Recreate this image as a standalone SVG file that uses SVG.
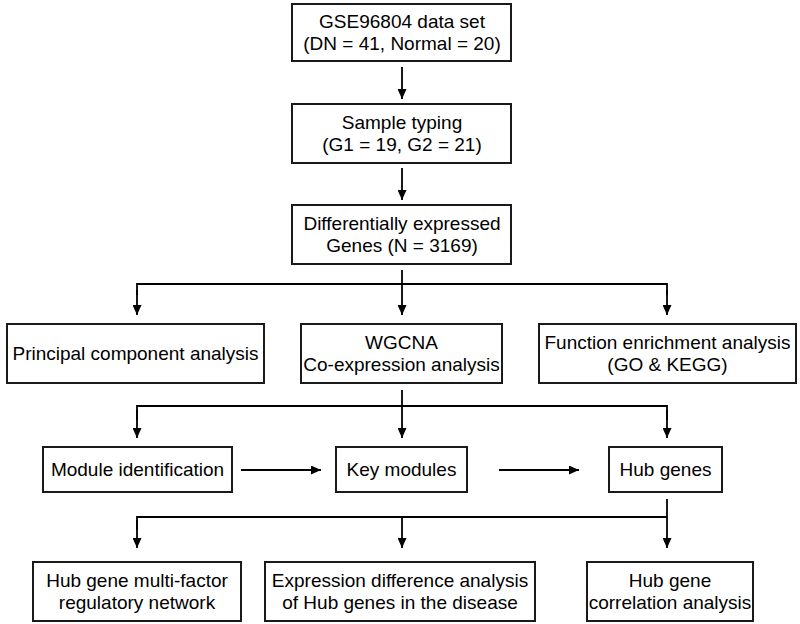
<svg xmlns="http://www.w3.org/2000/svg" width="800" height="624" viewBox="0 0 800 624">
<defs>
<marker id="ah" viewBox="0 0 10 9" refX="10" refY="4.5" markerWidth="10" markerHeight="9" orient="auto" markerUnits="userSpaceOnUse">
<path d="M0,0 L10,4.5 L0,9 Z" fill="#000"/>
</marker>
<style>
.box{fill:#fff;stroke:#1a1a1a;stroke-width:2}
.t{font-family:"Liberation Sans",Arial,sans-serif;font-size:19px;fill:#000;text-anchor:middle}
.c{fill:none;stroke:#000;stroke-width:1.8}
.a{fill:none;stroke:#000;stroke-width:1.8;marker-end:url(#ah)}
</style>
</defs>
<rect width="800" height="624" fill="#fff"/>
<g id="connectors">
<line class="a" x1="402" y1="67" x2="402" y2="99"/>
<line class="a" x1="402" y1="168" x2="402" y2="200"/>
<line class="c" x1="402" y1="270" x2="402" y2="284"/>
<polyline class="c" points="137,295 137,284 667,284 667,295"/>
<line class="a" x1="137" y1="290" x2="137" y2="315"/>
<line class="a" x1="402" y1="284" x2="402" y2="315"/>
<line class="a" x1="667" y1="290" x2="667" y2="315"/>
<line class="c" x1="402" y1="390" x2="402" y2="406"/>
<polyline class="c" points="137,420 137,406 667,406 667,420"/>
<line class="a" x1="137" y1="410" x2="137" y2="438"/>
<line class="a" x1="402" y1="406" x2="402" y2="438"/>
<line class="a" x1="667" y1="410" x2="667" y2="438"/>
<line class="a" x1="241" y1="470" x2="321" y2="470"/>
<line class="a" x1="499" y1="470" x2="579" y2="470"/>
<line class="c" x1="667" y1="499" x2="667" y2="517"/>
<polyline class="c" points="137,530 137,517 667,517"/>
<line class="a" x1="137" y1="520" x2="137" y2="548"/>
<line class="a" x1="402" y1="517" x2="402" y2="548"/>
<line class="a" x1="667" y1="517" x2="667" y2="548"/>
</g>
<g id="n1"><rect class="box" x="292" y="4" width="219" height="57"/>
<text class="t" x="402" y="28">GSE96804 data set</text><text class="t" x="402" y="50">(DN = 41, Normal = 20)</text></g>
<g id="n2"><rect class="box" x="292" y="104" width="219" height="59"/>
<text class="t" x="402" y="129">Sample typing</text><text class="t" x="402" y="151">(G1 = 19, G2 = 21)</text></g>
<g id="n3"><rect class="box" x="292" y="205" width="219" height="59"/>
<text class="t" x="402" y="230">Differentially expressed</text><text class="t" x="402" y="252">Genes (N = 3169)</text></g>
<g id="n4"><rect class="box" x="7" y="324" width="257" height="59"/>
<text class="t" x="135.5" y="360">Principal component analysis</text></g>
<g id="n5"><rect class="box" x="301" y="324" width="201" height="59"/>
<text class="t" x="401.5" y="349">WGCNA</text><text class="t" x="401.5" y="371">Co-expression analysis</text></g>
<g id="n6"><rect class="box" x="539" y="324" width="257" height="59"/>
<text class="t" x="667.5" y="349">Function enrichment analysis</text><text class="t" x="667.5" y="371">(GO &amp; KEGG)</text></g>
<g id="n7"><rect class="box" x="43" y="447" width="189" height="45"/>
<text class="t" x="137.5" y="476">Module identification</text></g>
<g id="n8"><rect class="box" x="336" y="447" width="131" height="45"/>
<text class="t" x="401.5" y="476">Key modules</text></g>
<g id="n9"><rect class="box" x="609" y="447" width="113" height="45"/>
<text class="t" x="665.5" y="476">Hub genes</text></g>
<g id="n10"><rect class="box" x="33" y="562" width="208" height="59"/>
<text class="t" x="137" y="587">Hub gene multi-factor</text><text class="t" x="137" y="609">regulatory network</text></g>
<g id="n11"><rect class="box" x="265" y="562" width="270" height="59"/>
<text class="t" x="400" y="587">Expression difference analysis</text><text class="t" x="400" y="609">of Hub genes in the disease</text></g>
<g id="n12"><rect class="box" x="587" y="562" width="166" height="59"/>
<text class="t" x="670" y="587">Hub gene</text><text class="t" x="670" y="609">correlation analysis</text></g>
</svg>
